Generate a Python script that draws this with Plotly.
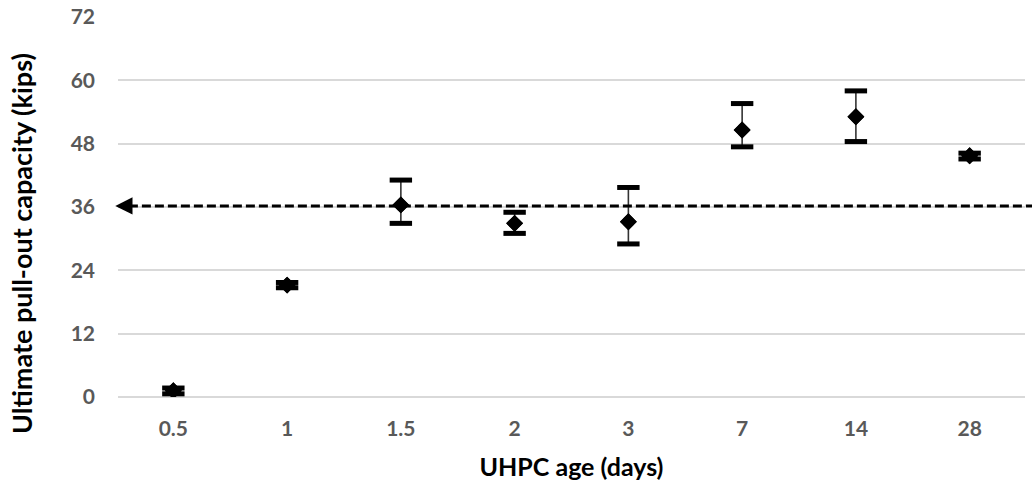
import plotly.graph_objects as go

ages = ["0.5", "1", "1.5", "2", "3", "7", "14", "28"]
capacity = [1.2, 21.2, 36.4, 32.9, 33.2, 50.6, 53.1, 45.7]
err_plus = [0.5, 0.5, 4.7, 2.1, 6.5, 5.0, 4.9, 0.5]
err_minus = [0.6, 0.5, 3.5, 1.9, 4.2, 3.2, 4.7, 0.6]
reference_level = 36.2
y_ticks = [0, 12, 24, 36, 48, 60, 72]

upper = [v + e for v, e in zip(capacity, err_plus)]
lower = [v - e for v, e in zip(capacity, err_minus)]

FONT = "Lato"
TICK_COLOR = "#595959"

fig = go.Figure()

# stems of error bars
fig.add_trace(go.Scatter(
    x=ages, y=capacity, mode="markers",
    marker=dict(symbol="diamond", size=13, color="black"),
    error_y=dict(type="data", array=err_plus, arrayminus=err_minus,
                 symmetric=False, thickness=1.6, width=0, color="#333333"),
    showlegend=False, hoverinfo="skip"))

# caps
for ys in (upper, lower):
    fig.add_trace(go.Scatter(
        x=ages, y=ys, mode="markers",
        marker=dict(symbol="line-ew", size=16,
                    line=dict(width=5, color="black")),
        showlegend=False, hoverinfo="skip"))

# markers on top
fig.add_trace(go.Scatter(
    x=ages, y=capacity, mode="markers",
    marker=dict(symbol="diamond", size=13, color="black"),
    showlegend=False))

# dashed reference line with arrow
fig.add_shape(type="line", xref="paper", yref="y",
              x0=0.012, x1=1.01, y0=reference_level, y1=reference_level,
              line=dict(color="black", width=3, dash="9px,4px"))
fig.add_annotation(x=-0.003, xref="paper", y=reference_level, yref="y",
                   ax=16, ay=0, showarrow=True, arrowhead=2, arrowsize=1.15,
                   arrowwidth=3, arrowcolor="black", text="")

# y axis title (centred on the whole chart height, as in the reference)
fig.add_annotation(text="Ultimate pull-out capacity (kips)", textangle=-90,
                   xref="paper", yref="paper", x=-0.107, y=0.405,
                   xanchor="center", yanchor="middle", showarrow=False,
                   font=dict(family=FONT, size=27, color="black", weight="bold"))

fig.update_layout(
    width=1032, height=483,
    margin=dict(l=118, r=7, t=17, b=86),
    plot_bgcolor="white", paper_bgcolor="white",
    font=dict(family=FONT),
)
fig.update_xaxes(
    type="category", categoryorder="array", categoryarray=ages,
    showgrid=False, showline=False, zeroline=False, automargin=False,
    tickfont=dict(family=FONT, size=21, color=TICK_COLOR, weight="bold"),
    ticklabelstandoff=17, ticklabeloverflow="allow",
    title=dict(text="UHPC age (days)", standoff=19,
               font=dict(family=FONT, size=25, color="black", weight="bold")),
)
fig.update_yaxes(
    range=[0, 72], tickvals=y_ticks, automargin=False,
    showgrid=True, gridcolor="#d9d9d9", gridwidth=1.5,
    zeroline=True, zerolinecolor="#d9d9d9", zerolinewidth=1.5,
    showline=False,
    tickfont=dict(family=FONT, size=21, color=TICK_COLOR, weight="bold"),
    ticklabelstandoff=22, ticklabeloverflow="allow",
)

fig.write_html("out.html",
               config={"displayModeBar": False},
               post_script="document.body.style.margin='0';")
